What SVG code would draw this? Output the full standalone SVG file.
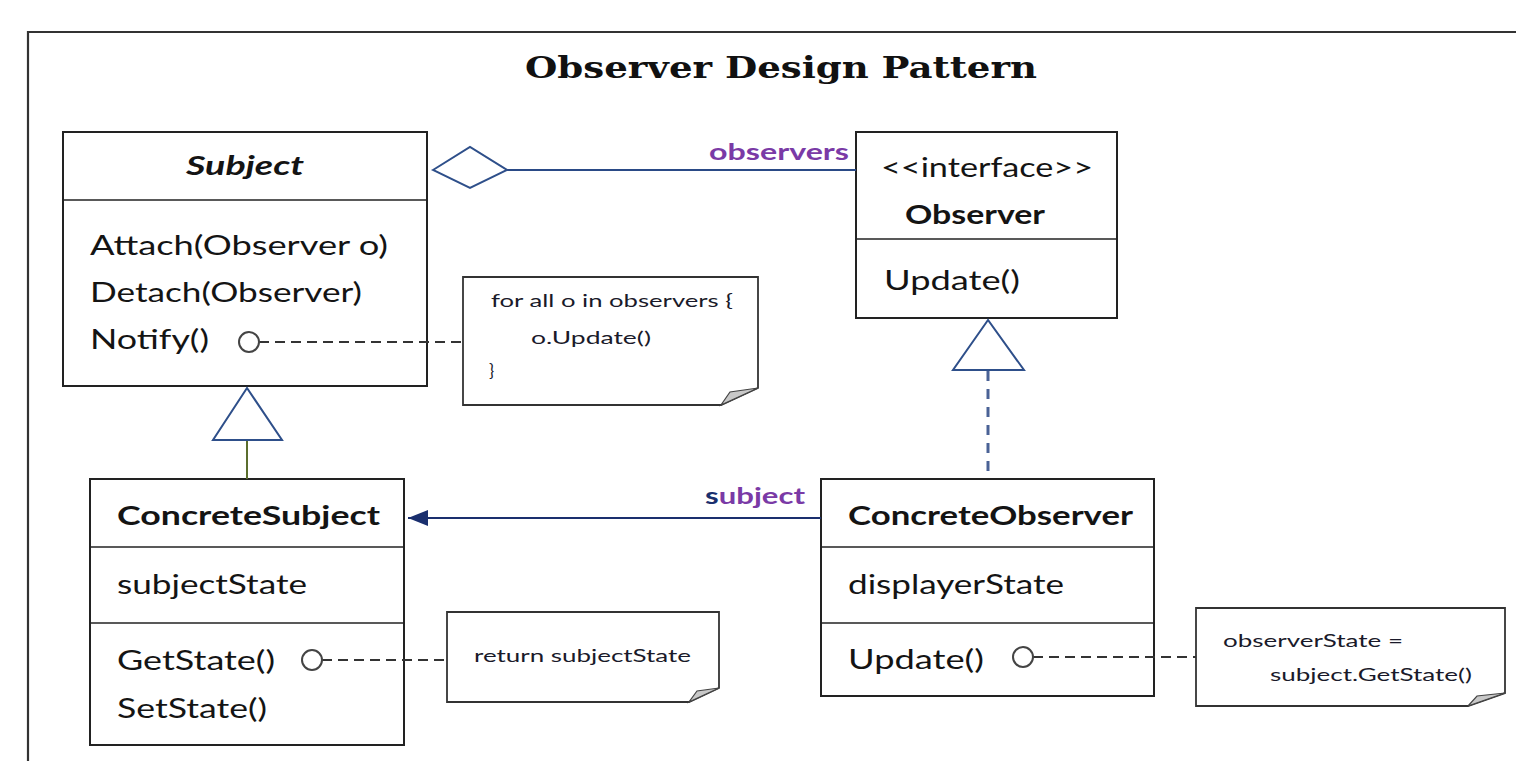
<svg xmlns="http://www.w3.org/2000/svg" width="1516" height="761" viewBox="0 0 1516 761">
  <defs>
    <style>
      .box { fill: #fff; stroke: #222; stroke-width: 2; }
      .div { stroke: #222; stroke-width: 1.6; }
      .t { font-family: Lato, "Open Sans", sans-serif; font-size: 26px; fill: #141414; }
      .b { font-weight: bold; }
      .n { font-family: Lato, "Open Sans", sans-serif; font-size: 17px; fill: #1a1a2a; }
      .note { fill: #fff; stroke: #333; stroke-width: 1.8; }
      .fold { fill: #c8c8c8; stroke: #444; stroke-width: 1.2; }
      .lab { font-family: Lato, "Open Sans", sans-serif; font-size: 22px; font-weight: bold; fill: #7a3aa6; }
      .dash { stroke: #333; stroke-width: 2; stroke-dasharray: 10 6; fill: none; }
      .pin { fill: #fff; stroke: #444; stroke-width: 2; }
    </style>
    <marker id="navyArrow" markerWidth="20" markerHeight="16" refX="20" refY="8" orient="auto" markerUnits="userSpaceOnUse">
      <path d="M0,0 L20,8 L0,16 Z" fill="#1a2f6e"/>
    </marker>
  </defs>

  <rect width="1516" height="761" fill="#fff"/>

  <!-- outer frame, open on the right and bottom -->
  <path d="M28,761 V32 H1516" fill="none" stroke="#333" stroke-width="2.2"/>

  <text x="781" y="78" text-anchor="middle" font-family="'DejaVu Serif', 'Liberation Serif', serif" font-weight="bold" font-size="30" fill="#111" textLength="512" lengthAdjust="spacingAndGlyphs">Observer Design Pattern</text>

  <!-- Subject -->
  <g id="subject">
    <rect class="box" x="63" y="132" width="364" height="254"/>
    <line class="div" x1="63" y1="200" x2="427" y2="200"/>
    <text class="t b" x="245" y="175" text-anchor="middle" font-style="italic" textLength="118" lengthAdjust="spacingAndGlyphs">Subject</text>
    <text class="t" x="90" y="255" textLength="298" lengthAdjust="spacingAndGlyphs">Attach(Observer  o)</text>
    <text class="t" x="90" y="302" textLength="272" lengthAdjust="spacingAndGlyphs">Detach(Observer)</text>
    <text class="t" x="90" y="349" textLength="119" lengthAdjust="spacingAndGlyphs">Notify()</text>
  </g>

  <!-- Observer -->
  <g id="observer">
    <rect class="box" x="856" y="132" width="261" height="186"/>
    <line class="div" x1="856" y1="239" x2="1117" y2="239"/>
    <text class="t" x="987" y="177" text-anchor="middle" textLength="212" lengthAdjust="spacingAndGlyphs">&lt;&lt;interface&gt;&gt;</text>
    <text class="t b" x="975" y="224" text-anchor="middle" textLength="140" lengthAdjust="spacingAndGlyphs">Observer</text>
    <text class="t" x="884" y="290" textLength="136" lengthAdjust="spacingAndGlyphs">Update()</text>
  </g>

  <!-- ConcreteSubject -->
  <g id="concrete-subject">
    <rect class="box" x="90" y="479" width="314" height="266"/>
    <line class="div" x1="90" y1="547" x2="404" y2="547"/>
    <line class="div" x1="90" y1="623" x2="404" y2="623"/>
    <text class="t b" x="117" y="525" textLength="263" lengthAdjust="spacingAndGlyphs">ConcreteSubject</text>
    <text class="t" x="117" y="594" textLength="190" lengthAdjust="spacingAndGlyphs">subjectState</text>
    <text class="t" x="117" y="670" textLength="158" lengthAdjust="spacingAndGlyphs">GetState()</text>
    <text class="t" x="117" y="718" textLength="150" lengthAdjust="spacingAndGlyphs">SetState()</text>
  </g>

  <!-- ConcreteObserver -->
  <g id="concrete-observer">
    <rect class="box" x="821" y="479" width="333" height="217"/>
    <line class="div" x1="821" y1="547" x2="1154" y2="547"/>
    <line class="div" x1="821" y1="623" x2="1154" y2="623"/>
    <text class="t b" x="848" y="525" textLength="285" lengthAdjust="spacingAndGlyphs">ConcreteObserver</text>
    <text class="t" x="848" y="594" textLength="216" lengthAdjust="spacingAndGlyphs">displayerState</text>
    <text class="t" x="848" y="669" textLength="136" lengthAdjust="spacingAndGlyphs">Update()</text>
  </g>

  <!-- note: Notify -->
  <g id="note-notify">
    <path class="note" d="M463,277 H758 V388 L721,405 H463 Z"/>
    <path class="fold" d="M758,388 L721,405 L730,392 Z"/>
    <text class="n" x="491" y="307" textLength="242" lengthAdjust="spacingAndGlyphs">for all o in observers {</text>
    <text class="n" x="531" y="344" textLength="120" lengthAdjust="spacingAndGlyphs">o.Update()</text>
    <text class="n" x="489" y="377">}</text>
  </g>

  <!-- note: GetState -->
  <g id="note-getstate">
    <path class="note" d="M447,612 H719 V688 L689,702 H447 Z"/>
    <path class="fold" d="M719,688 L689,702 L697,691 Z"/>
    <text class="n" x="474" y="662" textLength="217" lengthAdjust="spacingAndGlyphs">return subjectState</text>
  </g>

  <!-- note: Update -->
  <g id="note-update">
    <path class="note" d="M1196,608 H1505 V693 L1468,706 H1196 Z"/>
    <path class="fold" d="M1505,693 L1468,706 L1477,696 Z"/>
    <text class="n" x="1223" y="647" textLength="180" lengthAdjust="spacingAndGlyphs">observerState =</text>
    <text class="n" x="1270" y="681" textLength="202" lengthAdjust="spacingAndGlyphs">subject.GetState()</text>
  </g>

  <!-- connectors, drawn over the class boxes -->
  <g id="connectors">
    <!-- aggregation Subject <>- Observer -->
    <path d="M507,170 H856" stroke="#2a4a86" stroke-width="2" fill="none"/>
    <path d="M433,170 L470,147 L507,170 L470,188 Z" fill="#fff" stroke="#2e4f8a" stroke-width="2"/>
    <text class="lab" x="849" y="160" text-anchor="end" textLength="140" lengthAdjust="spacingAndGlyphs">observers</text>

    <!-- generalization ConcreteSubject -> Subject -->
    <path d="M247,440 V479" stroke="#5b6e2e" stroke-width="2" fill="none"/>
    <path d="M247,388 L213,440 L282,440 Z" fill="#fff" stroke="#2e4f8a" stroke-width="2"/>

    <!-- realization ConcreteObserver -> Observer -->
    <path d="M988,371 V479" stroke="#4a6296" stroke-width="3" stroke-dasharray="10 8" fill="none"/>
    <path d="M988,320 L953,370 L1024,370 Z" fill="#fff" stroke="#2e4f8a" stroke-width="2"/>

    <!-- association ConcreteObserver -> ConcreteSubject -->
    <path d="M821,518 H408" stroke="#1a2f6e" stroke-width="2" fill="none" marker-end="url(#navyArrow)"/>
    <text class="lab" x="805" y="504" text-anchor="end" textLength="100" lengthAdjust="spacingAndGlyphs"><tspan fill="#1a2f6e">s</tspan>ubject</text>

    <!-- note attachments -->
    <path class="dash" d="M259,342 H463"/>
    <circle class="pin" cx="249" cy="342" r="10"/>
    <path class="dash" d="M322,660 H447"/>
    <circle class="pin" cx="312" cy="660" r="10"/>
    <path class="dash" d="M1033,657 H1196"/>
    <circle class="pin" cx="1023" cy="657" r="10"/>
  </g>
</svg>
